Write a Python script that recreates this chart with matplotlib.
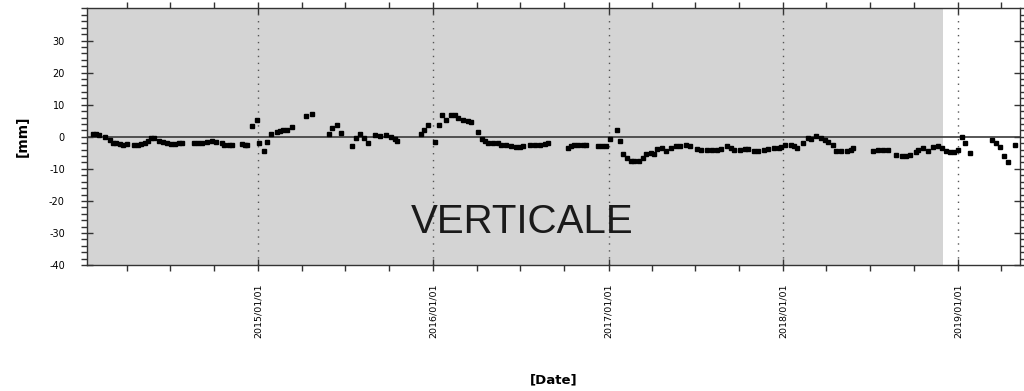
import numpy as np
import pandas as pd
import matplotlib
matplotlib.use("Agg")
import matplotlib.pyplot as plt
import matplotlib.dates as mdates
from matplotlib.ticker import MultipleLocator

plt.rcParams["axes.unicode_minus"] = False

# Vertical displacement readings [mm]
dates = [
    "2014-01-20", "2014-01-27", "2014-02-03", "2014-02-14", "2014-02-24", "2014-03-03",
    "2014-03-10", "2014-03-17", "2014-03-24", "2014-04-01", "2014-04-17", "2014-04-24",
    "2014-05-01", "2014-05-08", "2014-05-15", "2014-05-22", "2014-05-27", "2014-06-08",
    "2014-06-15", "2014-06-25", "2014-07-02", "2014-07-10", "2014-07-18", "2014-07-26",
    "2014-08-20", "2014-08-28", "2014-09-06", "2014-09-15", "2014-09-25", "2014-10-05",
    "2014-10-16", "2014-10-22", "2014-11-01", "2014-11-06", "2014-11-27", "2014-12-04",
    "2014-12-09", "2014-12-19", "2014-12-28",
    "2015-01-03", "2015-01-13", "2015-01-19", "2015-01-28", "2015-02-08", "2015-02-15",
    "2015-02-22", "2015-03-01", "2015-03-11", "2015-04-11", "2015-04-22", "2015-05-29",
    "2015-06-04", "2015-06-15", "2015-06-23", "2015-07-16", "2015-07-24", "2015-08-02",
    "2015-08-10", "2015-08-18", "2015-09-02", "2015-09-12", "2015-09-25", "2015-10-05",
    "2015-10-14", "2015-10-18", "2015-12-07", "2015-12-13", "2015-12-20",
    "2016-01-05", "2016-01-14", "2016-01-20", "2016-01-28", "2016-02-08", "2016-02-16",
    "2016-02-22", "2016-03-04", "2016-03-14", "2016-03-20", "2016-04-04", "2016-04-12",
    "2016-04-18", "2016-04-25", "2016-05-05", "2016-05-16", "2016-05-22", "2016-06-01",
    "2016-06-12", "2016-06-22", "2016-06-30", "2016-07-07", "2016-07-21", "2016-08-01",
    "2016-08-11", "2016-08-22", "2016-08-28", "2016-10-09", "2016-10-15", "2016-10-21",
    "2016-10-30", "2016-11-09", "2016-11-15", "2016-12-10", "2016-12-19", "2016-12-27",
    "2017-01-05", "2017-01-18", "2017-01-24", "2017-02-01", "2017-02-08", "2017-02-16",
    "2017-02-24", "2017-03-05", "2017-03-13", "2017-03-21", "2017-03-30", "2017-04-05",
    "2017-04-13", "2017-04-22", "2017-04-30", "2017-05-11", "2017-05-21", "2017-05-31",
    "2017-06-11", "2017-06-21", "2017-07-04", "2017-07-14", "2017-07-25", "2017-08-04",
    "2017-08-15", "2017-08-23", "2017-09-05", "2017-09-13", "2017-09-21", "2017-10-02",
    "2017-10-12", "2017-10-20", "2017-10-31", "2017-11-10", "2017-11-21", "2017-12-01",
    "2017-12-12", "2017-12-22", "2017-12-28",
    "2018-01-05", "2018-01-16", "2018-01-24", "2018-01-30", "2018-02-12", "2018-02-22",
    "2018-02-28", "2018-03-11", "2018-03-21", "2018-03-28", "2018-04-05", "2018-04-15",
    "2018-04-22", "2018-05-02", "2018-05-13", "2018-05-23", "2018-05-27", "2018-07-08",
    "2018-07-18", "2018-07-29", "2018-08-08", "2018-08-25", "2018-09-05", "2018-09-15",
    "2018-09-23", "2018-10-04", "2018-10-10", "2018-10-20", "2018-10-31", "2018-11-10",
    "2018-11-21", "2018-11-29", "2018-12-07", "2018-12-16", "2018-12-24",
    "2019-01-01", "2019-01-09", "2019-01-16", "2019-01-26", "2019-03-13", "2019-03-21",
    "2019-03-30", "2019-04-07", "2019-04-15", "2019-04-30",
]
values = [
    1.0, 0.8, 0.5, 0.0, -1.0, -1.8,
    -2.0, -2.2, -2.5, -2.2, -2.7, -2.7,
    -2.2, -1.8, -1.2, -0.5, -0.3, -1.3,
    -1.7, -2.0, -2.2, -2.2, -2.0, -1.8,
    -2.0, -2.0, -1.8, -1.6, -1.4, -1.5,
    -2.0, -2.5, -2.7, -2.7, -2.2, -2.5,
    -2.7, 3.3, 5.2,
    -2.0, -4.5, -1.5, 0.8, 1.5, 1.8,
    2.0, 2.2, 3.0, 6.5, 7.0, 0.8,
    2.7, 3.7, 1.3, -3.0, -0.5, 1.0,
    -0.5, -2.0, 0.5, 0.2, 0.5, 0.0,
    -0.8, -1.2, 0.8, 2.0, 3.7,
    -1.5, 3.7, 6.8, 5.3, 6.8, 6.8,
    6.0, 5.3, 5.0, 4.5, 1.5, -0.8,
    -1.2, -1.8, -1.8, -1.9, -2.5, -2.7,
    -2.8, -3.3, -3.3, -3.0, -2.7, -2.7,
    -2.5, -2.3, -2.0, -3.5, -3.0, -2.6,
    -2.6, -2.7, -2.7, -2.8, -2.8, -2.8,
    -0.8, 2.0, -1.3, -5.3, -6.7, -7.5,
    -7.7, -7.5, -6.7, -5.3, -5.0, -5.5,
    -3.7, -3.5, -4.3, -3.5, -3.0, -2.8,
    -2.7, -2.9, -3.7, -4.0, -4.0, -4.0,
    -4.0, -3.8, -2.8, -3.5, -4.2, -4.0,
    -3.8, -3.8, -4.5, -4.3, -4.0, -3.8,
    -3.6, -3.5, -3.3,
    -2.6, -2.5, -3.0, -3.5, -1.8, -0.5,
    -0.8, 0.3, -0.5, -1.0, -1.5, -2.7,
    -4.3, -4.5, -4.5, -4.2, -3.5, -4.5,
    -4.0, -4.0, -4.2, -5.8, -6.0, -6.0,
    -5.8, -4.7, -4.2, -3.5, -4.5, -3.3,
    -2.8, -3.5, -4.5, -4.8, -4.8,
    -4.0, 0.0, -2.0, -5.0, -1.0, -1.8,
    -3.3, -6.0, -8.0, -2.5,
]

x_start, x_end = "2014-01-08", "2019-05-10"
shade_end = "2018-11-30"
year_lines = ["2015-01-01", "2016-01-01", "2017-01-01", "2018-01-01", "2019-01-01"]

t = pd.to_datetime(dates)

fig = plt.figure(figsize=(10.24, 3.91), dpi=100)
ax = fig.add_axes([0.085, 0.322, 0.911, 0.658])
ax.set_facecolor("white")

# grey band covers the monitored period, white afterwards
ax.axvspan(pd.Timestamp(x_start), pd.Timestamp(shade_end), color="#d4d4d4", lw=0, zorder=0)
for d in year_lines:
    ax.axvline(pd.Timestamp(d), color="#555555", ls=(0, (1, 4)), lw=1.0, zorder=1)
ax.axhline(0, color="#3a3a3a", lw=1.2, zorder=2)

ax.plot(t, values, ls="none", marker="s", ms=2.4, color="black", zorder=3)

ax.text(0.466, 0.167, "VERTICALE", transform=ax.transAxes, ha="center", va="center",
        fontsize=29, family="Liberation Sans", color="#1a1a1a", zorder=4)

ax.set_xlim(pd.Timestamp(x_start), pd.Timestamp(x_end))
ax.set_ylim(-40, 40.2)

ax.xaxis.set_major_locator(mdates.YearLocator())
ax.xaxis.set_minor_locator(mdates.MonthLocator(bymonth=[4, 7, 10]))
ax.xaxis.set_major_formatter(mdates.DateFormatter("%Y/%m/%d"))
ax.yaxis.set_minor_locator(MultipleLocator(2))
ax.set_yticks([-40, -30, -20, -10, 0, 10, 20, 30])

ax.tick_params(axis="both", which="major", direction="inout", length=8, width=1, color="#333333",
               top=True, right=True, labelsize=7)
ax.tick_params(axis="both", which="minor", direction="out", length=4, width=1, color="#333333",
               top=True, right=True)
for lbl in ax.get_xticklabels():
    lbl.set_rotation(90)
    lbl.set_fontsize(6.8)
ax.tick_params(axis="x", which="major", pad=9)
ax.tick_params(axis="y", which="major", pad=12)

for s in ax.spines.values():
    s.set_color("#333333")
    s.set_linewidth(1.0)

ax.set_ylabel("[mm]", fontsize=10, fontweight="bold", labelpad=14)
ax.set_xlabel("[Date]", fontsize=9.5, fontweight="bold", labelpad=26)

fig.savefig("out.png", dpi=100)
